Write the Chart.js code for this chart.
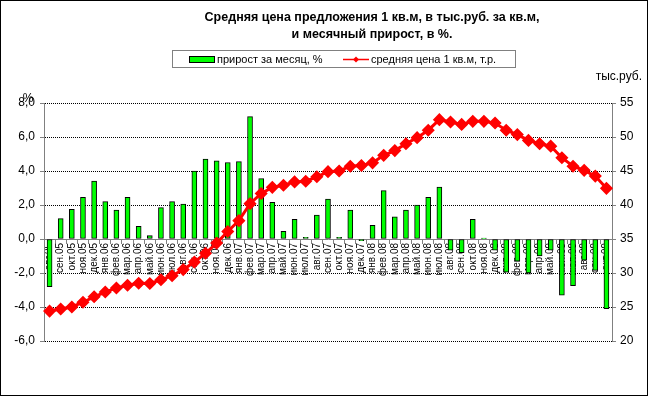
<!DOCTYPE html>
<html><head><meta charset="utf-8">
<script src="https://cdn.jsdelivr.net/npm/chart.js@4/dist/chart.umd.min.js"></script>
<style>html,body{margin:0;padding:0;background:#fff}#wrap{width:648px;height:396px;position:relative}</style>
</head><body><div id="wrap"><canvas id="c" width="648" height="396"></canvas></div>
<script>
const categories = ['авг.05','сен.05','окт.05','ноя.05','дек.05',
  'янв.06','фев.06','мар.06','апр.06','май.06','июн.06','июл.06','авг.06','сен.06','окт.06','ноя.06','дек.06',
  'янв.07','фев.07','мар.07','апр.07','май.07','июн.07','июл.07','авг.07','сен.07','окт.07','ноя.07','дек.07',
  'янв.08','фев.08','мар.08','апр.08','май.08','июн.08','июл.08','авг.08','сен.08','окт.08','ноя.08','дек.08',
  'янв.09','фев.09','мар.09','апр.09','май.09','июн.09','июл.09','авг.09','сен.09','окт.09'];
const growthPct = [-2.8, 1.2, 1.75, 2.45, 3.4,
  2.2, 1.7, 2.45, 0.75, 0.2, 1.85, 2.2, 2.05, 4.0, 4.7, 4.6, 4.5,
  4.55, 7.2, 3.55, 2.15, 0.45, 1.15, 0.1, 1.4, 2.35, 0.1, 1.7, -0.1,
  0.8, 2.85, 1.3, 1.7, 2.0, 2.45, 3.05, -0.65, -0.8, 1.15, 0.05, -0.65,
  -1.95, -1.3, -2.0, -1.0, -0.65, -3.3, -2.75, -1.25, -1.85, -4.1];
const avgPrice = [24.4, 24.7, 25.0, 25.7, 26.5,
  27.2, 27.8, 28.2, 28.5, 28.45, 29.0, 29.6, 30.5, 31.6, 32.9, 34.4, 36.1,
  37.7, 40.2, 41.7, 42.6, 42.9, 43.4, 43.5, 44.15, 44.9, 45.0, 45.7, 45.8,
  46.2, 47.3, 48.0, 49.0, 49.9, 51.0, 52.55, 52.2, 51.85, 52.3, 52.3, 52.05,
  51.0, 50.35, 49.5, 49.0, 48.65, 46.95, 45.7, 45.1, 44.25, 42.45];
const leftRange = [-6, 8, 2];
const rightRange = [20, 55, 5];
const titleLines = ['Средняя цена предложения 1 кв.м, в тыс.руб. за кв.м,', 'и месячный прирост, в %.'];
const seriesNames = ['прирост за месяц, %', 'средняя цена 1 кв.м, т.р.'];
const leftUnit = '%';
const rightUnit = 'тыс.руб.';

const FONT = '"Liberation Sans", Arial, sans-serif';

const decor = {
  id: 'decor',
  beforeDraw(chart) {
    const ctx = chart.ctx;
    ctx.save();
    ctx.fillStyle = '#fff';
    ctx.fillRect(0, 0, chart.width, chart.height);
    ctx.restore();
  },
  afterDraw(chart) {
    const ctx = chart.ctx;
    ctx.save();
    // frame
    ctx.strokeStyle = '#000';
    ctx.lineWidth = 1;
    ctx.strokeRect(0.5, 0.5, chart.width - 1, chart.height - 1);
    // title
    ctx.fillStyle = '#000';
    ctx.font = 'bold 12.5px ' + FONT;
    ctx.textAlign = 'center';
    ctx.textBaseline = 'middle';
    ctx.fillText(titleLines[0], 372, 18);
    ctx.fillText(titleLines[1], 372, 35);
    // legend
    ctx.setLineDash([1, 1]);
    ctx.strokeStyle = '#000';
    ctx.strokeRect(172.5, 50.5, 343, 17);
    ctx.setLineDash([]);
    const ds0 = chart.data.datasets[0], ds1 = chart.data.datasets[1];
    ctx.fillStyle = ds0.backgroundColor;
    ctx.fillRect(189, 57, 25, 5);
    ctx.strokeStyle = '#000';
    ctx.strokeRect(189.5, 56.5, 25, 6);
    ctx.fillStyle = '#000';
    ctx.font = '11px ' + FONT;
    ctx.textAlign = 'left';
    ctx.fillText(ds0.label, 217, 59.5);
    ctx.strokeStyle = ds1.borderColor;
    ctx.lineWidth = 1.5;
    ctx.beginPath(); ctx.moveTo(343, 59.5); ctx.lineTo(369, 59.5); ctx.stroke();
    ctx.fillStyle = ds1.borderColor;
    ctx.beginPath(); ctx.moveTo(356, 56.5); ctx.lineTo(359, 59.5); ctx.lineTo(356, 62.5); ctx.lineTo(353, 59.5); ctx.closePath(); ctx.fill();
    ctx.fillStyle = '#000';
    ctx.fillText(ds1.label, 371, 59.5);
    // units
    ctx.font = '12px ' + FONT;
    ctx.textAlign = 'center';
    ctx.fillText(leftUnit, 28, 99);
    ctx.textAlign = 'right';
    ctx.fillText(rightUnit, 642, 77);
    ctx.restore();
  }
};

const tickFmt = v => Number(v).toFixed(1).replace('.', ',');

new Chart(document.getElementById('c'), {
  type: 'bar',
  data: {
    labels: categories,
    datasets: [
      {
        type: 'bar', label: seriesNames[0], data: growthPct, yAxisID: 'y',
        backgroundColor: '#00FF00', borderColor: '#000000', borderWidth: 1,
        barThickness: 5, order: 2, borderSkipped: false
      },
      {
        type: 'line', label: seriesNames[1], data: avgPrice, yAxisID: 'y1',
        borderColor: '#FF0000', backgroundColor: '#FF0000', borderWidth: 3,
        pointStyle: 'rectRot', pointRadius: 5.5, pointBorderWidth: 1.5,
        pointBackgroundColor: '#FF0000', pointBorderColor: '#FF0000',
        tension: 0, order: 1, clip: false
      }
    ]
  },
  options: {
    responsive: false, devicePixelRatio: 1, animation: false,
    layout: { padding: { top: 103, bottom: 55, left: 0, right: 0 } },
    plugins: { legend: { display: false }, title: { display: false }, tooltip: { enabled: false } },
    scales: {
      x: {
        position: { y: 0 },
        offset: true,
        grid: { display: true, drawOnChartArea: false, drawTicks: true, tickLength: 4, color: '#808080', offset: true },
        border: { display: true, color: '#808080', width: 1 },
        ticks: { autoSkip: false, minRotation: 90, maxRotation: 90, padding: 0, color: '#000',
                 font: { family: FONT, size: 10 } },
        afterFit(s) { s.height = 0; s.paddingLeft = 0; s.paddingRight = 0; }
      },
      y: {
        position: 'left', min: leftRange[0], max: leftRange[1],
        ticks: { stepSize: leftRange[2], callback: tickFmt, padding: 5, color: '#000', font: { family: FONT, size: 12 } },
        grid: { color: '#000', tickColor: '#808080', tickLength: 4, lineWidth: 1 },
        border: { display: true, color: '#808080', dash: [1, 1] },
        afterFit(s) { s.width = 44; s.paddingTop = 0; s.paddingBottom = 0; }
      },
      y1: {
        position: 'right', min: rightRange[0], max: rightRange[1],
        ticks: { stepSize: rightRange[2], padding: 4, color: '#000', font: { family: FONT, size: 12 } },
        grid: { drawOnChartArea: false, color: '#808080', tickLength: 4 },
        border: { display: true, color: '#808080' },
        afterFit(s) { s.width = 36; s.paddingTop = 0; s.paddingBottom = 0; }
      }
    }
  },
  plugins: [decor]
});
</script>
</body></html>
